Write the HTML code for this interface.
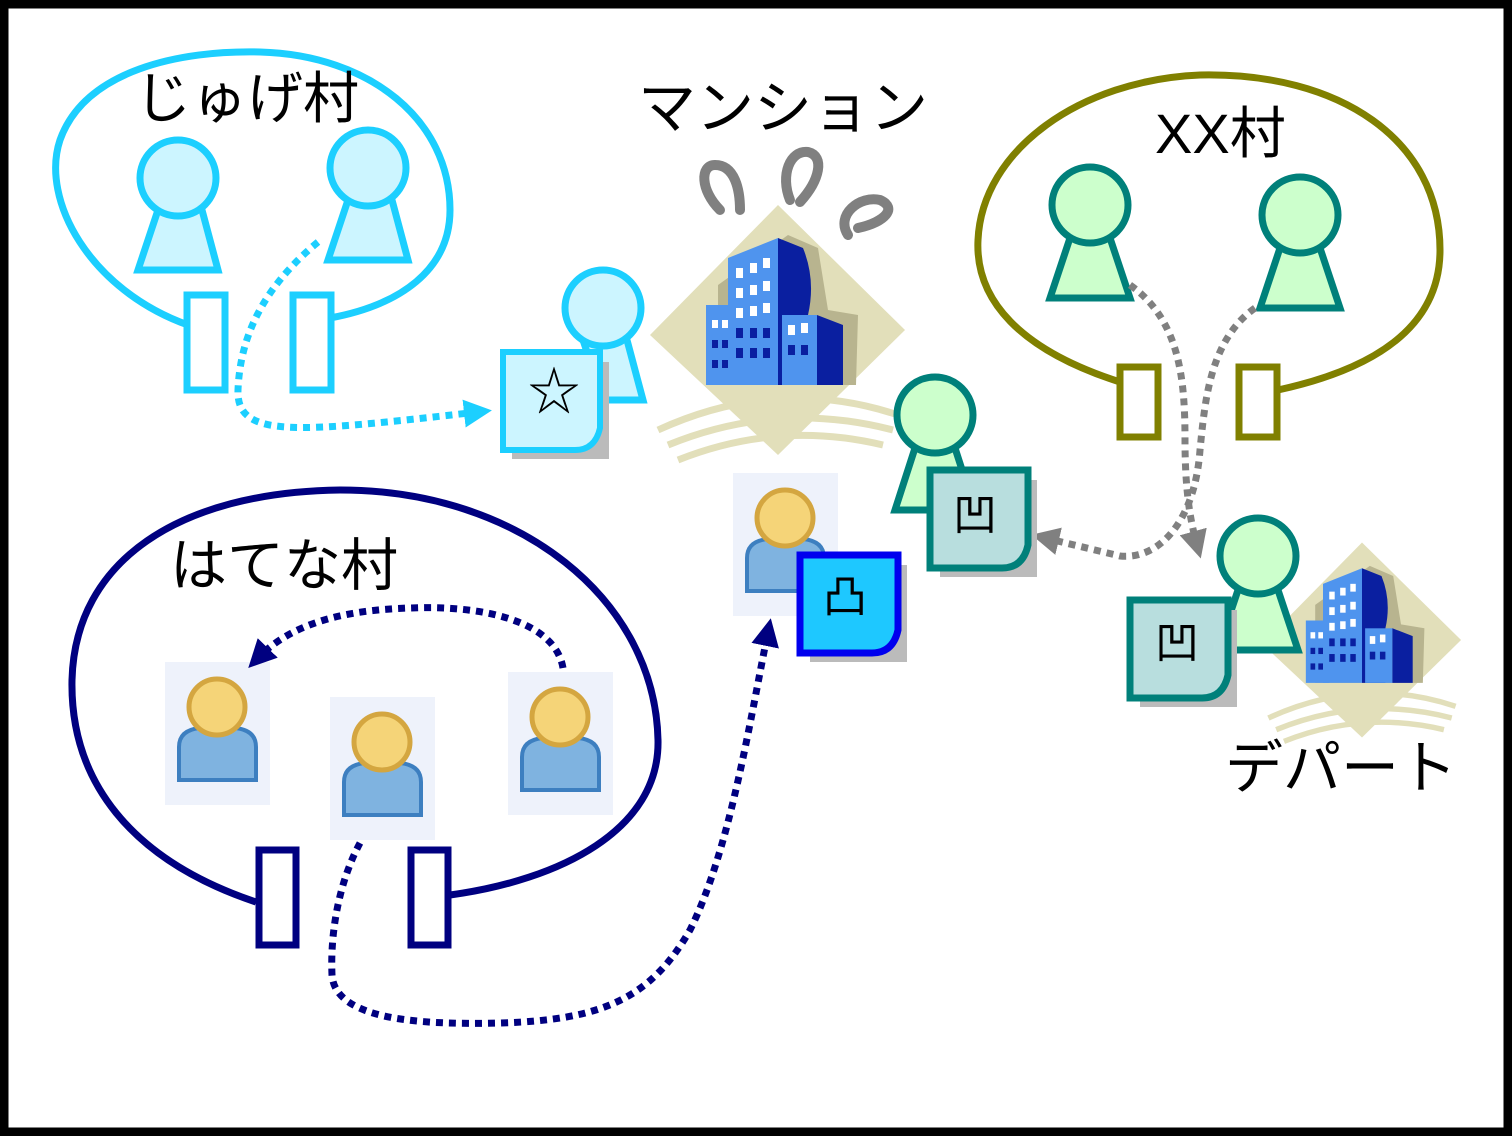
<!DOCTYPE html>
<html><head><meta charset="utf-8"><style>
html,body{margin:0;padding:0;background:#fff}
svg{display:block}
text{font-family:"Liberation Sans","Noto Sans CJK JP",sans-serif}
</style></head><body>
<svg width="1512" height="1136" viewBox="0 0 1512 1136" xmlns="http://www.w3.org/2000/svg">
<defs>
<marker id="ac" markerWidth="4" markerHeight="4" refX="2" refY="2" orient="auto" markerUnits="strokeWidth"><path d="M0,0 L4,2 L0,4z" fill="#1ccfff"/></marker>
<marker id="ag" markerWidth="4" markerHeight="4" refX="2" refY="2" orient="auto" markerUnits="strokeWidth"><path d="M0,0 L4,2 L0,4z" fill="#808080"/></marker>
<marker id="an" markerWidth="4" markerHeight="4" refX="2" refY="2" orient="auto" markerUnits="strokeWidth"><path d="M0,0 L4,2 L0,4z" fill="#000080"/></marker>
<g id="user">
<rect x="0" y="0" width="105" height="143" fill="#eef2fb"/>
<path d="M14,118 L14,85 Q14,68 35,66 L70,66 Q91,68 91,85 L91,118z" fill="#7fb3e0" stroke="#3d7fc0" stroke-width="4"/>
<circle cx="52" cy="45" r="28" fill="#f5d478" stroke="#d4a640" stroke-width="5"/>
</g>
<g id="bld">
<polygon points="0,-125 127,0 0,125 -128,5" fill="#e2dfba"/>
<path d="M-60,-45 L10,-95 L40,-82 L50,-20 L80,-15 L78,55 L-60,55z" fill="#b8b48f"/>
<rect x="-72" y="-25" width="30" height="80" fill="#4f94ee"/>
<path d="M-50,-72 L0,-92 L0,55 L-50,55z" fill="#4f94ee"/>
<path d="M0,-92 L25,-82 Q38,-50 30,-15 L30,55 L0,55z" fill="#0a1fa0"/>
<rect x="4" y="-15" width="35" height="70" fill="#4f94ee"/>
<path d="M39,-15 L65,-5 L65,55 L39,55z" fill="#0a1fa0"/>
<g fill="#fff"><rect x="-42" y="-62" width="7" height="10"/><rect x="-28" y="-67" width="7" height="10"/><rect x="-15" y="-72" width="7" height="10"/><rect x="-42" y="-42" width="7" height="10"/><rect x="-28" y="-45" width="7" height="10"/><rect x="-15" y="-49" width="7" height="10"/><rect x="-42" y="-22" width="7" height="10"/><rect x="-28" y="-24" width="7" height="10"/><rect x="-15" y="-27" width="7" height="10"/><rect x="10" y="-5" width="7" height="10"/><rect x="23" y="-7" width="7" height="10"/><rect x="-66" y="-10" width="6" height="8"/><rect x="-56" y="-10" width="6" height="8"/></g>
<g fill="#0a1fa0"><rect x="-42" y="-2" width="7" height="10"/><rect x="-28" y="-2" width="7" height="10"/><rect x="-15" y="-2" width="7" height="10"/><rect x="-42" y="18" width="7" height="10"/><rect x="-28" y="18" width="7" height="10"/><rect x="-15" y="18" width="7" height="10"/><rect x="10" y="15" width="7" height="10"/><rect x="23" y="15" width="7" height="10"/><rect x="-66" y="10" width="6" height="8"/><rect x="-56" y="10" width="6" height="8"/><rect x="-66" y="30" width="6" height="8"/><rect x="-56" y="30" width="6" height="8"/></g>
<g fill="none" stroke="#e2dfba" stroke-width="7"><path d="M-120,100 Q0,45 120,85"/><path d="M-110,115 Q0,70 115,100"/><path d="M-100,130 Q0,90 105,115"/></g>
</g>
</defs>
<rect x="4" y="4" width="1504" height="1128" fill="#fff" stroke="#000" stroke-width="9"/>

<!-- じゅげ村 -->
<path d="M188,325 C90,290 40,200 60,140 C85,70 180,50 260,52 C370,55 450,120 450,210 C450,270 400,305 330,318" fill="none" stroke="#1ccfff" stroke-width="7"/>
<text x="135" y="118" font-size="56">じゅげ村</text>
<rect x="187" y="295" width="38" height="95" fill="#fff" stroke="#1ccfff" stroke-width="7"/>
<rect x="293" y="295" width="38" height="95" fill="#fff" stroke="#1ccfff" stroke-width="7"/>
<g fill="#ccf5ff" stroke="#1ccfff" stroke-width="7">
<polygon points="158,210 202,210 218,270 138,270"/><circle cx="178" cy="178" r="38"/>
<polygon points="348,200 392,200 408,260 328,260"/><circle cx="368" cy="168" r="38"/>
<polygon points="583,340 627,340 643,400 603,400"/><circle cx="603" cy="308" r="38"/>
</g>
<path d="M318,242 C260,290 240,340 238,390 C236,440 300,432 478,412" fill="none" stroke="#1ccfff" stroke-width="7" stroke-dasharray="7,6" marker-end="url(#ac)"/>
<rect x="512" y="362" width="97" height="97" fill="#bbb"/>
<path d="M503,352 L600,352 L600,428 Q595,450 575,450 L503,450z" fill="#ccf5ff" stroke="#1ccfff" stroke-width="6"/>
<text x="528" y="410" font-size="52">☆</text>

<!-- mansion -->
<g fill="none" stroke="#808080" stroke-width="10" stroke-linecap="round">
<path d="M720,210 C700,190 700,165 715,165 C735,165 740,190 740,210"/>
<path d="M790,200 C780,175 790,150 808,152 C825,156 820,180 800,202"/>
<path d="M848,235 C835,215 860,195 880,200 C898,208 885,222 858,228"/>
</g>
<use href="#bld" transform="translate(778,330)"/>
<text x="638" y="128" font-size="58">マンション</text>

<!-- XX村 -->
<path d="M1120,382 C1020,350 975,300 978,240 C982,150 1080,80 1200,75 C1340,72 1440,140 1440,250 C1440,330 1370,370 1278,390" fill="none" stroke="#808000" stroke-width="7"/>
<text x="1155" y="153" font-size="56">XX村</text>
<rect x="1120" y="367" width="38" height="70" fill="#fff" stroke="#808000" stroke-width="7"/>
<rect x="1239" y="367" width="38" height="70" fill="#fff" stroke="#808000" stroke-width="7"/>
<g fill="#ccffcc" stroke="#00807a" stroke-width="7">
<polygon points="1070,238 1110,238 1130,298 1050,298"/><circle cx="1090" cy="205" r="38"/>
<polygon points="1280,248 1320,248 1340,308 1260,308"/><circle cx="1300" cy="215" r="38"/>
<polygon points="915,448 955,448 975,510 895,510"/><circle cx="935" cy="415" r="38"/>
</g>
<path d="M1130,285 C1180,320 1185,380 1185,440 C1185,490 1190,520 1197,545" fill="none" stroke="#808080" stroke-width="7" stroke-dasharray="7,6" marker-end="url(#ag)"/>
<path d="M1255,308 C1210,340 1205,400 1200,450 C1195,520 1160,560 1120,556 L1045,538" fill="none" stroke="#808080" stroke-width="7" stroke-dasharray="7,6" marker-end="url(#ag)"/>
<rect x="940" y="480" width="97" height="97" fill="#bbb"/>
<path d="M930,470 L1028,470 L1028,545 Q1023,568 1002,568 L930,568z" fill="#b8dede" stroke="#00807a" stroke-width="7"/>
<text x="953" y="530" font-size="44">凹</text>

<!-- department -->
<use href="#bld" transform="translate(1362,640) scale(0.78)"/>
<g fill="#ccffcc" stroke="#00807a" stroke-width="7">
<polygon points="1238,590 1278,590 1298,650 1218,650"/><circle cx="1258" cy="556" r="38"/>
</g>
<rect x="1140" y="610" width="97" height="97" fill="#bbb"/>
<path d="M1130,600 L1228,600 L1228,675 Q1223,698 1202,698 L1130,698z" fill="#b8dede" stroke="#00807a" stroke-width="7"/>
<text x="1155" y="658" font-size="44">凹</text>
<text x="1225" y="788" font-size="58">デパート</text>

<!-- はてな村 -->
<path d="M256,902 C130,860 70,780 72,680 C75,560 180,492 340,490 C520,490 655,600 658,740 C660,830 560,880 450,895" fill="none" stroke="#000080" stroke-width="7"/>
<text x="170" y="585" font-size="57">はてな村</text>
<rect x="259" y="850" width="37" height="95" fill="#fff" stroke="#000080" stroke-width="7"/>
<rect x="411" y="850" width="37" height="95" fill="#fff" stroke="#000080" stroke-width="7"/>
<use href="#user" x="165" y="662"/>
<use href="#user" x="330" y="697"/>
<use href="#user" x="508" y="672"/>
<use href="#user" x="733" y="473"/>
<path d="M563,668 C555,620 480,605 410,608 C340,610 290,625 258,658" fill="none" stroke="#000080" stroke-width="7" stroke-dasharray="7,6" marker-end="url(#an)"/>
<path d="M360,843 C340,880 330,930 332,975 C335,1020 420,1025 500,1023 C600,1020 650,1000 690,930 C730,850 750,720 768,632" fill="none" stroke="#000080" stroke-width="7" stroke-dasharray="7,6" marker-end="url(#an)"/>
<rect x="810" y="565" width="97" height="97" fill="#bbb"/>
<path d="M800,555 L898,555 L898,630 Q893,653 872,653 L800,653z" fill="#1ec8ff" stroke="#0000ee" stroke-width="7"/>
<text x="823" y="612" font-size="44">凸</text>
</svg>
</body></html>
